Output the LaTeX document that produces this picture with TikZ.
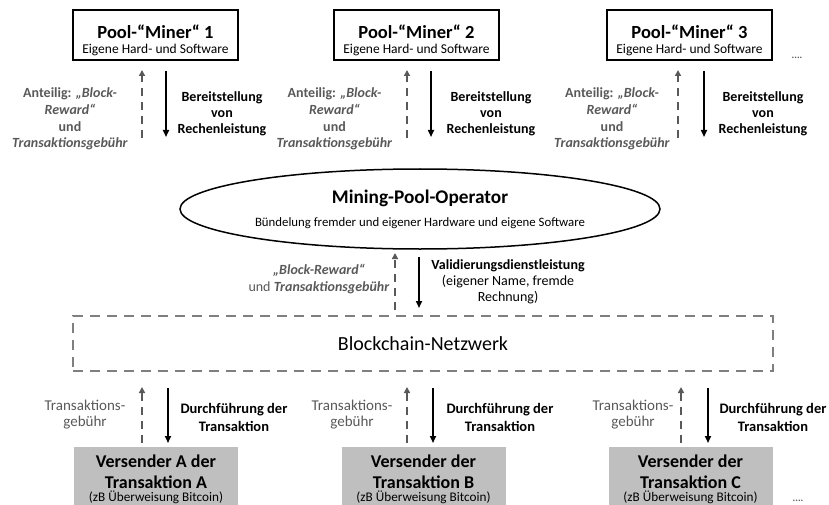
\documentclass[tikz,border=0pt]{standalone}
\usepackage{fontspec}
\setmainfont{Carlito}
\usepackage{xcolor}
\usepackage{tikz}
\usetikzlibrary{arrows.meta,shapes.geometric}
\definecolor{labelgray}{HTML}{595959}
\definecolor{linegray}{HTML}{7F7F7F}
\definecolor{boxgray}{HTML}{BFBFBF}

\begin{document}
\begin{tikzpicture}[x=1pt, y=-1pt,
    minerbox/.style={draw, line width=1.2pt, minimum width=165pt, minimum height=50pt, align=center, inner sep=2pt},
    senderbox/.style={fill=boxgray, minimum width=164pt, minimum height=66pt, align=center, inner sep=2pt, font=\bfseries\fontsize{18}{21}\selectfont},
    flowback/.style={labelgray, line width=1.5pt, dash pattern=on 8pt off 6pt, -{Triangle[length=6pt,width=6pt]}},
    flowdown/.style={black, line width=1.6pt, -{Triangle[length=7pt,width=6pt]}},
    paylabel/.style={labelgray, align=center, font=\bfseries\fontsize{14}{16.7}\selectfont},
    servlabel/.style={black, align=center, font=\bfseries\fontsize{14}{16}\selectfont},
]
    \useasboundingbox (0,0) rectangle (829,505);

    % Pool-Miner
    \foreach \i/\cx/\dx/\sx/\lx/\rx in {1/155.5/142/166/70/222, 2/416.5/407/431/334.5/491, 3/689.5/678/704/612/763} {
        \node[minerbox] (miner\i) at (\cx,35) {{\bfseries\fontsize{18.5}{20}\selectfont \rule{0pt}{24pt}Pool-“Miner“ \i}\\[3pt]{\fontsize{13.5}{15}\selectfont Eigene Hard- und Software}};
        \coordinate (share\i) at (\dx,138);
        \coordinate (sharetop\i) at (\dx,70);
        \coordinate (power\i) at (\sx,71);
        \coordinate (powerend\i) at (\sx,137);
        \draw[flowback] (share\i) -- (sharetop\i);
        \draw[flowdown] (power\i) -- (powerend\i);
        \node[paylabel] (sharelbl\i) at (\lx,119) {Anteilig: \textit{„Block-}\\\textit{Reward“}\\und\\\textit{Transaktionsgebühr}};
        \node[servlabel] (powerlbl\i) at (\rx,114) {Bereitstellung\\von\\Rechenleistung};
    }
    \node[labelgray, font=\bfseries\fontsize{10}{12}\selectfont] (moreminers) at (797,58) {....};

    % Operator
    \node[ellipse, draw, line width=1.5pt, minimum width=480pt, minimum height=80pt, inner sep=0pt, align=center] (operator) at (420,209)
        {{\bfseries\fontsize{19.3}{22}\selectfont Mining-Pool-Operator}\\[10pt]{\fontsize{12.8}{14}\selectfont Bündelung fremder und eigener Hardware und eigene Software}};
    \coordinate (reward) at (395,310);
    \coordinate (rewardtop) at (395,253);
    \coordinate (valid) at (419,257);
    \coordinate (validend) at (419,308);
    \draw[flowback] (reward) -- (rewardtop);
    \draw[flowdown] (valid) -- (validend);
    \node[paylabel] (rewardlbl) at (319,279) {\textit{„Block-Reward“}\\{\mdseries und} \textit{Transaktionsgebühr}};
    \node[servlabel] (validlbl) at (508,281.5) {Validierungsdienstleistung\\{\mdseries (eigener Name, fremde}\\{\mdseries Rechnung)}};

    % Blockchain
    \node[draw=linegray, line width=2pt, dash pattern=on 10pt off 7pt, minimum width=700pt, minimum height=55pt, font=\fontsize{20}{22}\selectfont] (network) at (423,343.5) {Blockchain-Netzwerk};

    % Versender
    \foreach \s/\cx/\dx/\sx/\lx/\rx/\txt in {A/156/142/168/85/234/{Versender A der\\Transaktion A}, B/423.5/407/433/352/500/{Versender der\\Transaktion B}, C/690.5/681/708/633/773/{Versender der\\Transaktion C}} {
        \node[senderbox] (sender\s) at (\cx,479.5) {\txt\\[-7.5pt]{\mdseries\fontsize{13.2}{14}\selectfont (zB Überweisung Bitcoin)}};
        \coordinate (fee\s) at (\dx,443);
        \coordinate (feetop\s) at (\dx,387);
        \coordinate (exec\s) at (\sx,388);
        \coordinate (execend\s) at (\sx,443);
        \draw[flowback] (fee\s) -- (feetop\s);
        \draw[flowdown] (exec\s) -- (execend\s);
        \node[labelgray, align=center, font=\fontsize{15}{16}\selectfont] (feelbl\s) at (\lx,415) {Transaktions-\\gebühr};
        \node[servlabel, font=\bfseries\fontsize{14.5}{18}\selectfont] (execlbl\s) at (\rx,417) {Durchführung der\\Transaktion};
    }
    \node[labelgray, font=\bfseries\fontsize{10}{12}\selectfont] (moresenders) at (798,501) {....};
\end{tikzpicture}
\end{document}
